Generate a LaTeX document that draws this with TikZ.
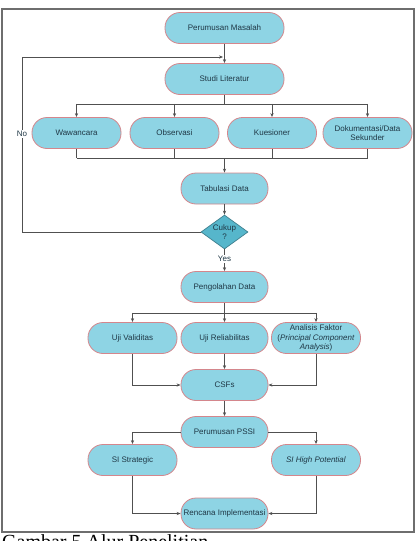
\documentclass[tikz,border=0pt]{standalone}
\usepackage{fontspec}
\setmainfont{Liberation Sans}
\newfontfamily\captionserif{Liberation Serif}
\usetikzlibrary{arrows.meta,shapes.geometric}
\definecolor{boxfill}{HTML}{8ED4E4}
\definecolor{boxline}{HTML}{D4868C}
\definecolor{txt}{HTML}{1F3745}
\definecolor{wire}{HTML}{505050}
\definecolor{framegray}{HTML}{6E6E6E}
\definecolor{decfill}{HTML}{56B6CB}
\definecolor{decline}{HTML}{3F7F8E}

\begin{document}
\begin{tikzpicture}[x=1pt,y=-1pt,
  stadium/.style={draw=boxline, line width=0.8pt, fill=boxfill,
    rounded corners=15pt, minimum height=31pt, text=txt,
    font=\fontsize{8}{9.5}\selectfont, align=center, inner sep=0pt},
  wide/.style={stadium, minimum width=119pt},
  mid/.style={stadium, minimum width=89pt},
  narrow/.style={stadium, minimum width=87pt},
  decision/.style={diamond, draw=decline, line width=0.7pt, fill=decfill,
    minimum width=47pt, minimum height=34pt, aspect=1.4, inner sep=0pt,
    text=txt, font=\fontsize{8}{9.5}\selectfont, align=center},
  wirestyle/.style={draw=wire, line width=0.7pt},
  arr/.style={wirestyle, -{Stealth[length=4pt,width=3.2pt]}},
  tag/.style={fill=white, inner sep=1pt, text=txt, font=\fontsize{8}{9.5}\selectfont}
]
\clip (0,0) rectangle (419,541);
\useasboundingbox (0,0) rectangle (419,541);
\fill[white] (0,0) rectangle (419,541);

% outer frame
\draw[framegray, line width=1.4pt] (2,9) rectangle (414,532);

% nodes
\node[wide] (pm) at (224.5,28) {Perumusan Masalah};
\node[wide] (sl) at (224.5,79) {Studi Literatur};
\node[mid] (ww) at (76.5,133) {Wawancara};
\node[mid] (ob) at (174.5,133) {Observasi};
\node[mid] (ku) at (272,133) {Kuesioner};
\node[mid] (dk) at (367.5,133) {Dokumentasi/Data\\Sekunder};
\node[narrow] (tb) at (224.5,188.5) {Tabulasi Data};
\node[decision] (ck) at (224.5,232) {Cukup\\?};
\node[narrow] (pd) at (224.5,287) {Pengolahan Data};
\node[mid] (uv) at (132.5,338) {Uji Validitas};
\node[narrow] (ur) at (224.5,338) {Uji Reliabilitas};
\node[mid] (af) at (316,338) {Analisis Faktor\\(\textit{Principal Component}\\\textit{Analysis})};
\node[narrow] (cs) at (224.5,385) {CSFs};
\node[narrow] (ps) at (224.5,432) {Perumusan PSSI};
\node[mid] (ss) at (132.5,460) {SI Strategic};
\node[mid] (sh) at (316,460) {\textit{SI High Potential}};
\node[narrow] (ri) at (224.5,513.5) {Rencana Implementasi};

% main flow
\draw[arr] (pm) -- (sl);
\draw[wirestyle] (sl.south) -- ++(0,9) coordinate (split1);
\draw[wirestyle] (split1 -| ww) -- (split1 -| dk);
\foreach \n in {ww,ob,ku,dk}
  \draw[arr] (split1 -| \n) -- (\n.north);

\coordinate (join1) at (224.5,158);
\foreach \n in {ww,ob,ku,dk}
  \draw[wirestyle] (\n.south) -- (join1 -| \n);
\draw[wirestyle] (join1 -| ww) -- (join1 -| dk);
\draw[arr] (join1) -- (tb);
\draw[arr] (tb) -- (ck);

% loop back when data is not sufficient
\coordinate (loopleft) at (22,232);
\coordinate (looptop) at (22,57);
\coordinate (loopend) at (223,57);
\draw[arr] (ck.west) -- (loopleft) -- (looptop) -- (loopend);
\node[tag] (no) at (22,134) {No};

\draw[arr] (ck.south) -- (pd);
\node[tag] (yes) at (224.5,259) {Yes};

% analysis
\draw[wirestyle] (pd.south) -- ++(0,10) coordinate (split2);
\draw[wirestyle] (split2 -| uv) -- (split2 -| af);
\foreach \n in {uv,ur,af}
  \draw[arr] (split2 -| \n) -- (\n.north);
\draw[arr] (uv.south) |- (cs.west);
\draw[arr] (ur) -- (cs);
\draw[arr] (af.south) |- (cs.east);
\draw[arr] (cs) -- (ps);

% formulation
\draw[arr] (ps.west) -| (ss.north);
\draw[arr] (ps.east) -| (sh.north);
\draw[arr] (ss.south) |- (ri.west);
\draw[arr] (sh.south) |- (ri.east);

% caption
\node[anchor=base west, inner sep=0pt, font=\captionserif\fontsize{20}{24}\selectfont] (cap) at (2,548) {Gambar 5 Alur Penelitian};
\end{tikzpicture}
\end{document}
